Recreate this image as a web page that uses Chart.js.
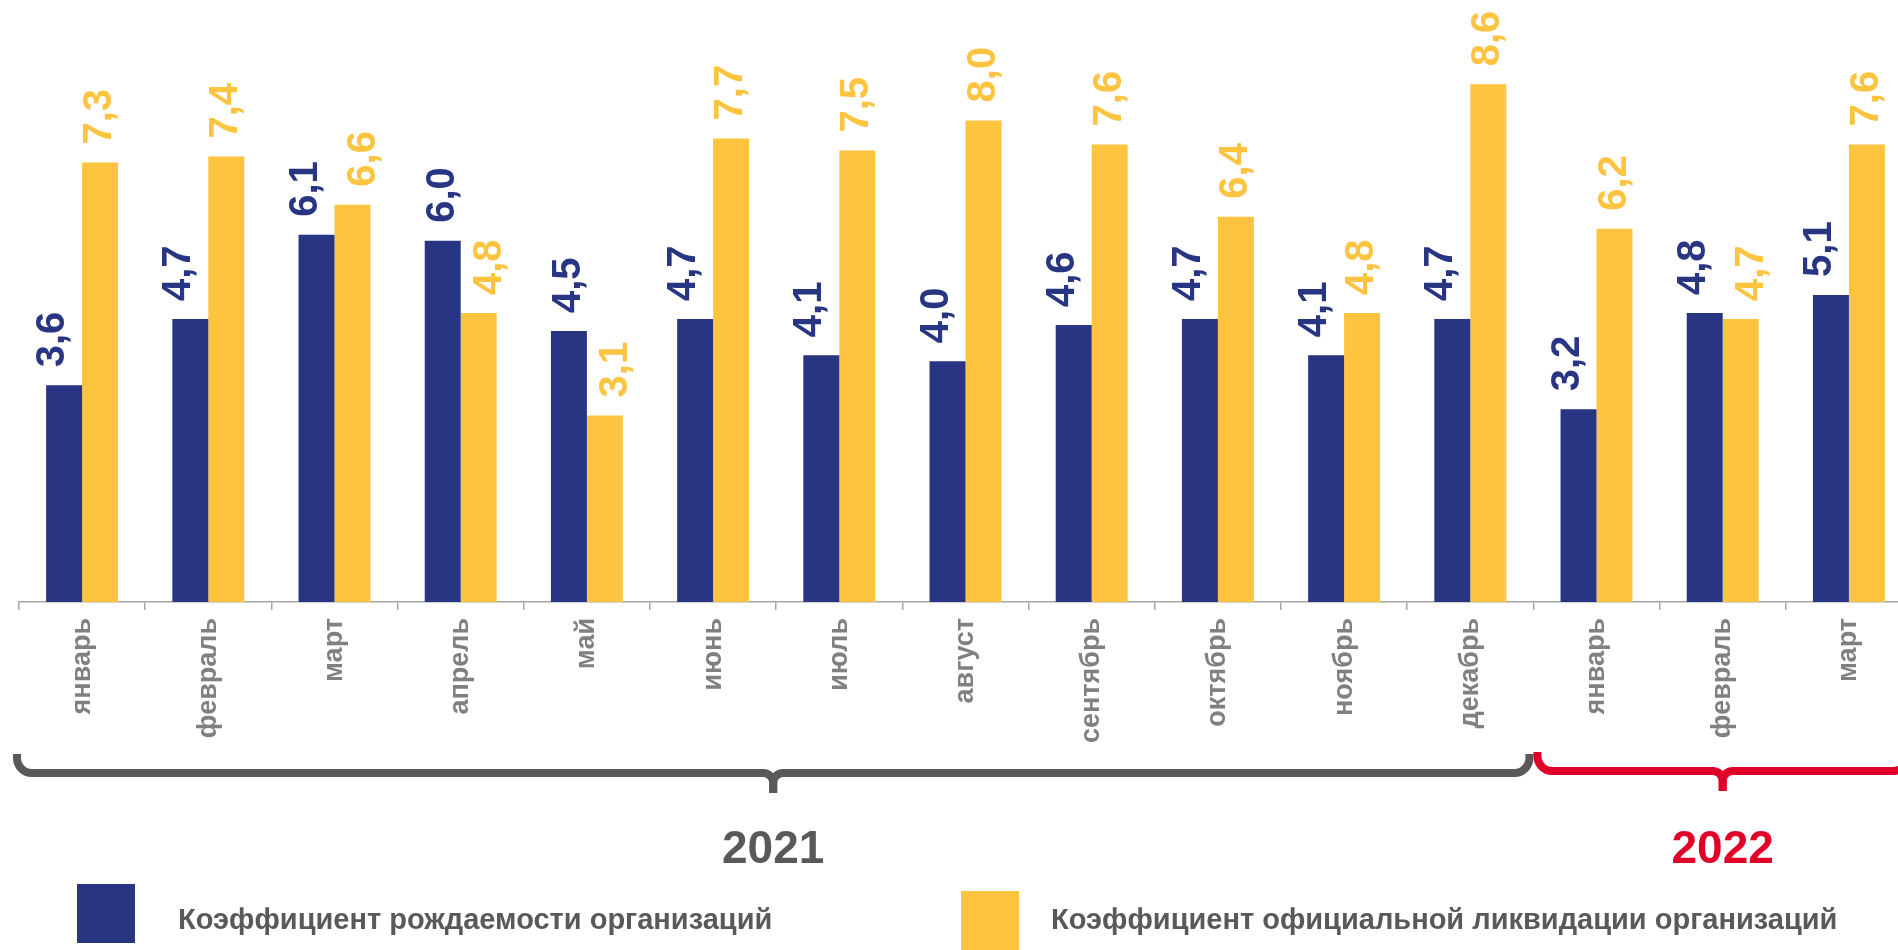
<!DOCTYPE html>
<html><head><meta charset="utf-8">
<script src="https://cdn.jsdelivr.net/npm/chart.js@4.4.1/dist/chart.umd.min.js"></script>
<style>
html,body{margin:0;padding:0;overflow:hidden;background:#fff;width:1898px;height:950px}
#wrap{position:absolute;left:0;top:0;width:1913px;height:950px}
canvas{display:block}
</style></head><body><div id="wrap"><canvas id="c" width="1913" height="950"></canvas></div>
<script>
const months = ['январь','февраль','март','апрель','май','июнь','июль','август','сентябрь','октябрь','ноябрь','декабрь','январь','февраль','март'];
const birthRate = [3.6,4.7,6.1,6.0,4.5,4.7,4.1,4.0,4.6,4.7,4.1,4.7,3.2,4.8,5.1];
const liquidationRate = [7.3,7.4,6.6,4.8,3.1,7.7,7.5,8.0,7.6,6.4,4.8,8.6,6.2,4.7,7.6];
const years = ['2021','2022'];
const yearMonthCounts = [12,3];
const seriesNames = ['Коэффициент рождаемости организаций','Коэффициент официальной ликвидации организаций'];

const FONT = '"Liberation Sans", Arial, sans-serif';
const BLUE = '#283583', YELLOW = '#FEC33F', GRAY = '#595959', RED = '#E1002A';
const yearColors = [GRAY, RED];

const valueLabels = {
  id: 'valueLabels',
  afterDatasetsDraw(chart) {
    const c = chart.ctx;
    c.save();
    c.font = 'bold 40px ' + FONT;
    c.textAlign = 'left';
    c.textBaseline = 'middle';
    chart.data.datasets.forEach((ds, di) => {
      chart.getDatasetMeta(di).data.forEach((el, i) => {
        const v = ds.data[i];
        const other = chart.data.datasets[1 - di].data[i];
        let shift = 0;
        if (di === 0 && !(v - other > 1)) shift = -11;
        if (di === 1 && v - other < 0.6) shift = 11;
        c.save();
        c.translate(el.x + shift, el.y - 18);
        c.rotate(-Math.PI / 2);
        c.fillStyle = ds.backgroundColor;
        c.fillText(v.toFixed(1).replace('.', ','), 0, 0);
        c.restore();
      });
    });
    c.restore();
  }
};

function brace(c, x0, x1, yL, col) {
  const r = 15, r2 = 10, depth = 20, cx = (x0 + x1) / 2;
  c.save();
  c.strokeStyle = col; c.lineWidth = 8; c.lineCap = 'butt'; c.lineJoin = 'round';
  c.beginPath();
  c.moveTo(x0, yL - r - 4);
  c.lineTo(x0, yL - r);
  c.arc(x0 + r, yL - r, r, Math.PI, Math.PI / 2, true);
  c.lineTo(cx - r2, yL);
  c.arc(cx - r2, yL + r2, r2, -Math.PI / 2, 0, false);
  c.lineTo(cx, yL + depth);
  c.stroke();
  c.beginPath();
  c.moveTo(cx, yL + depth);
  c.lineTo(cx, yL + r2);
  c.arc(cx + r2, yL + r2, r2, Math.PI, 1.5 * Math.PI, false);
  c.lineTo(x1 - r, yL);
  c.arc(x1 - r, yL - r, r, Math.PI / 2, 0, true);
  c.lineTo(x1, yL - r - 4);
  c.stroke();
  c.restore();
}

const decor = {
  id: 'decor',
  afterDraw(chart) {
    const c = chart.ctx, xs = chart.scales.x;
    const step = (xs.right - xs.left) / months.length;
    const bound = k => xs.left + k * step;
    let start = 0;
    yearMonthCounts.forEach((n, i) => {
      const x0 = i === 0 ? bound(0) - 2 : bound(start) + 4;
      const x1 = bound(start + n) - 4;
      brace(c, x0, x1, i === 0 ? 773 : 771, yearColors[i]);
      c.save();
      c.fillStyle = yearColors[i];
      c.font = 'bold 46px ' + FONT;
      c.textAlign = 'center';
      c.textBaseline = 'alphabetic';
      c.fillText(years[i], (x0 + x1) / 2, 863);
      c.restore();
      start += n;
    });
    // legend
    c.save();
    c.font = 'bold 29px ' + FONT;
    c.textBaseline = 'alphabetic';
    c.textAlign = 'left';
    c.fillStyle = BLUE; c.fillRect(77, 884, 58, 59);
    c.fillStyle = GRAY; c.fillText(seriesNames[0], 178, 929);
    c.fillStyle = YELLOW; c.fillRect(961, 891, 58, 60);
    c.fillStyle = GRAY; c.fillText(seriesNames[1], 1051, 929);
    c.restore();
  }
};

new Chart(document.getElementById('c'), {
  type: 'bar',
  data: {
    labels: months,
    datasets: [
      { label: seriesNames[0], data: birthRate, backgroundColor: BLUE },
      { label: seriesNames[1], data: liquidationRate, backgroundColor: YELLOW }
    ]
  },
  options: {
    responsive: false, animation: false, devicePixelRatio: 1,
    layout: { padding: { left: 19, right: 1, top: 0, bottom: 0 } },
    plugins: { legend: { display: false }, tooltip: { enabled: false } },
    datasets: { bar: { categoryPercentage: 0.57, barPercentage: 1 } },
    scales: {
      x: {
        offset: true,
        grid: { display: true, drawOnChartArea: false, drawTicks: true, tickLength: 8, color: '#a6a6a6', lineWidth: 1.5, offset: true },
        border: { display: true, color: '#a6a6a6', width: 1.5 },
        ticks: { autoSkip: false, minRotation: 90, maxRotation: 90, padding: 8, color: '#808080', font: { family: FONT, size: 27, weight: 'bold' } },
        afterFit(s) { s.height = 348; }
      },
      y: { display: false, min: 0, max: 10 }
    }
  },
  plugins: [valueLabels, decor]
});
</script></body></html>
